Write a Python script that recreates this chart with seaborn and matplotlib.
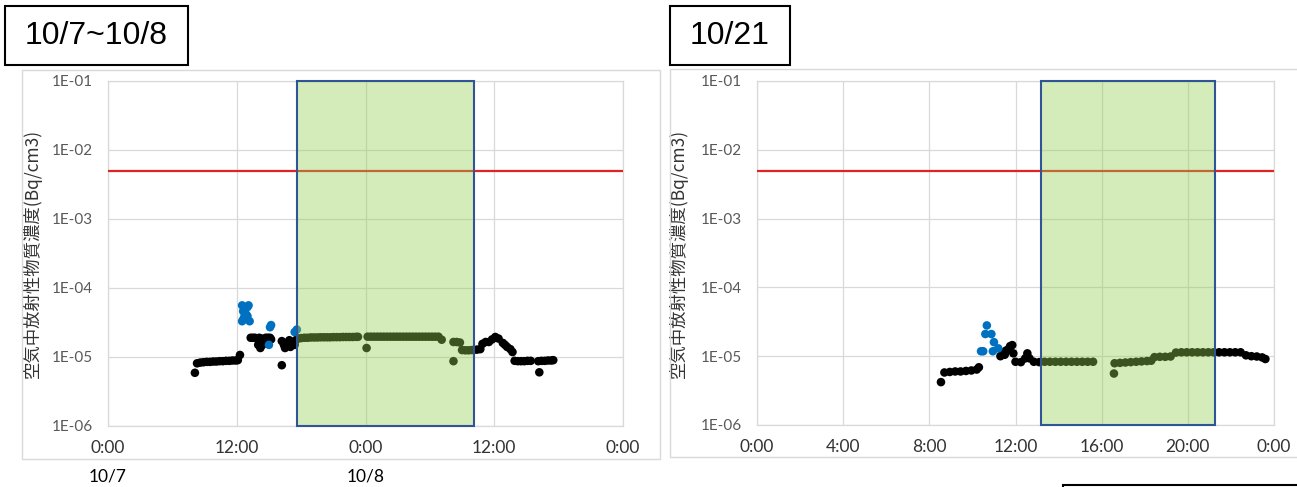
import pandas as pd
import seaborn as sns
import matplotlib.pyplot as plt
from matplotlib.patches import Rectangle
from matplotlib.ticker import NullLocator

# 10/7~10/8 : hours counted from 10/7 0:00
left_hours = [8.1, 8.3, 8.6, 8.9, 9.2, 9.5, 9.8, 10.1, 10.4, 10.7, 11.0, 11.3, 11.6, 11.9, 12.1, 12.3,
              13.3, 13.5, 13.7, 13.9, 14.0, 14.1, 14.2, 14.3, 14.4, 14.5, 14.6, 14.7, 14.9, 15.1, 15.2,
              16.2, 16.2, 16.4, 16.5, 16.7, 16.9, 17.0, 17.2, 17.4, 17.5,
              17.7, 18.0, 18.3, 18.6, 18.9, 19.2, 19.5, 19.8, 20.1, 20.4, 20.7, 21.0, 21.3, 21.6, 21.9,
              22.2, 22.5, 22.8, 23.1, 23.3,
              24.1, 24.2, 24.5, 24.8, 25.1, 25.4, 25.7, 26.0, 26.3, 26.6, 26.9, 27.2, 27.5, 27.8, 28.1,
              28.4, 28.7, 29.0, 29.3, 29.6, 29.9, 30.2, 30.5, 30.8, 31.1,
              32.2, 32.2, 32.5, 32.8, 33.0, 33.3, 33.6, 33.9, 34.1,
              34.4, 34.7, 34.9, 35.2, 35.5, 35.8, 36.1, 36.4, 36.8, 37.0, 37.2, 37.5, 37.7,
              37.9, 38.2, 38.5, 38.8, 39.1, 39.4,
              40.1, 40.2, 40.4, 40.7, 41.0, 41.3, 41.5]
left_values = [5.9e-6, 8.1e-6, 8.3e-6, 8.4e-6, 8.5e-6, 8.5e-6, 8.6e-6, 8.6e-6, 8.7e-6, 8.7e-6, 8.8e-6, 8.8e-6,
               8.9e-6, 8.9e-6, 9.0e-6, 1.07e-5,
               1.9e-5, 1.9e-5, 1.9e-5, 1.85e-5, 1.5e-5, 1.9e-5, 1.35e-5, 1.85e-5, 1.5e-5, 1.8e-5, 1.6e-5,
               1.9e-5, 1.9e-5, 1.9e-5, 1.8e-5,
               7.6e-6, 1.7e-5, 1.5e-5, 1.35e-5, 1.6e-5, 1.75e-5, 1.4e-5, 1.6e-5, 1.5e-5, 1.75e-5,
               1.85e-5, 1.88e-5, 1.9e-5, 1.9e-5, 1.92e-5, 1.92e-5, 1.92e-5, 1.93e-5, 1.93e-5, 1.93e-5,
               1.93e-5, 1.94e-5, 1.94e-5, 1.94e-5, 1.95e-5, 1.95e-5, 1.95e-5, 1.95e-5, 1.96e-5, 1.96e-5,
               1.35e-5, 1.97e-5, 1.97e-5, 1.97e-5, 1.97e-5, 1.97e-5, 1.97e-5, 1.97e-5, 1.97e-5, 1.97e-5,
               1.97e-5, 1.97e-5, 1.97e-5, 1.97e-5, 1.97e-5, 1.97e-5, 1.97e-5, 1.97e-5, 1.97e-5, 1.97e-5,
               1.97e-5, 1.97e-5, 1.97e-5, 1.97e-5, 1.78e-5,
               8.7e-6, 1.65e-5, 1.65e-5, 1.62e-5, 1.26e-5, 1.25e-5, 1.25e-5, 1.26e-5, 1.27e-5,
               1.28e-5, 1.3e-5, 1.55e-5, 1.65e-5, 1.65e-5, 1.8e-5, 1.95e-5, 1.85e-5, 1.6e-5, 1.5e-5,
               1.4e-5, 1.3e-5, 1.18e-5,
               8.8e-6, 8.7e-6, 8.7e-6, 8.7e-6, 8.8e-6, 8.8e-6,
               8.7e-6, 6.0e-6, 8.8e-6, 8.8e-6, 8.9e-6, 8.9e-6, 9.0e-6]
left_blue_hours = [12.5, 12.6, 12.7, 12.5, 12.6, 12.8, 12.9, 13.0, 13.1, 13.0, 13.2, 15.0, 15.1, 15.2, 17.4, 17.6]
left_blue_values = [5.6e-5, 4.6e-5, 3.8e-5, 3.3e-5, 3.5e-5, 4.3e-5, 4.1e-5, 5.3e-5, 5.6e-5, 3.9e-5, 3.3e-5,
                    1.5e-5, 2.7e-5, 2.9e-5, 2.3e-5, 2.5e-5]
left_ticks = [0, 12, 24, 36, 48]
left_ticklabels = ['0:00', '12:00', '0:00', '12:00', '0:00']
left_period = (17.58, 34.08)

# 10/21
right_hours = [8.54, 8.7, 8.95, 9.2, 9.45, 9.7, 9.95, 10.2, 10.3,
               11.3, 11.4, 11.5, 11.55, 11.65, 11.75, 11.85, 11.9,
               12.0, 12.25, 12.45, 12.55, 12.65, 12.85, 13.1,
               13.35, 13.6, 13.85, 14.1, 14.35, 14.6, 14.85, 15.1, 15.35, 15.6,
               16.57, 16.6, 16.85, 17.1, 17.35, 17.6, 17.85, 18.1, 18.3,
               18.45, 18.7, 18.95, 19.2,
               19.45, 19.7, 19.95, 20.2, 20.45, 20.7, 20.95, 21.2, 21.45, 21.7, 21.95, 22.2, 22.45,
               22.7, 22.95, 23.2, 23.45, 23.6]
right_values = [4.2e-6, 5.8e-6, 5.9e-6, 6.0e-6, 6.0e-6, 6.1e-6, 6.2e-6, 6.4e-6, 6.9e-6,
                1.0e-5, 1.1e-5, 1.05e-5, 1.2e-5, 1.25e-5, 1.4e-5, 1.45e-5, 1.1e-5,
                8.3e-6, 8.2e-6, 9.3e-6, 1.1e-5, 9.3e-6, 8.3e-6, 8.2e-6,
                8.3e-6, 8.3e-6, 8.3e-6, 8.3e-6, 8.3e-6, 8.3e-6, 8.3e-6, 8.3e-6, 8.3e-6, 8.3e-6,
                5.6e-6, 7.9e-6, 8.0e-6, 8.1e-6, 8.2e-6, 8.3e-6, 8.4e-6, 8.5e-6, 8.6e-6,
                9.7e-6, 9.8e-6, 9.8e-6, 9.9e-6,
                1.13e-5, 1.14e-5, 1.14e-5, 1.14e-5, 1.14e-5, 1.14e-5, 1.14e-5, 1.14e-5, 1.14e-5,
                1.14e-5, 1.14e-5, 1.14e-5, 1.14e-5,
                1.03e-5, 1.0e-5, 9.9e-6, 9.6e-6, 9.1e-6]
right_blue_hours = [10.4, 10.5, 10.67, 10.6, 10.88, 11.0, 10.95, 11.2]
right_blue_values = [1.18e-5, 1.18e-5, 2.8e-5, 2.1e-5, 2.1e-5, 1.6e-5, 1.18e-5, 1.3e-5]
right_ticks = [0, 4, 8, 12, 16, 20, 24]
right_ticklabels = ['0:00', '4:00', '8:00', '12:00', '16:00', '20:00', '0:00']
right_period = (13.2, 21.25)

limit = 5e-3
decades = [1e-6, 1e-5, 1e-4, 1e-3, 1e-2, 1e-1]
decade_labels = ['1E-06', '1E-05', '1E-04', '1E-03', '1E-02', '1E-01']
ylabel = '空気中放射性物質濃度(Bq/cm3)'

sns.set_theme(style='white')
plt.rcParams['font.family'] = ['Lato', 'Noto Sans CJK JP', 'DejaVu Sans']

W, H = 1297, 487
fig = plt.figure(figsize=(W / 100, H / 100), dpi=100)


def px_rect(x0, y0, x1, y1, **kw):
    # rectangle given in image pixels (top-left origin)
    r = Rectangle((x0 / W, 1 - y1 / H), (x1 - x0) / W, (y1 - y0) / H,
                  transform=fig.transFigure, **kw)
    fig.patches.append(r)


def panel(ax, hours, values, blue_h, blue_v, xmax, ticks, ticklabels, period):
    df = pd.DataFrame({'hour': hours + blue_h, 'value': values + blue_v,
                       'kind': ['normal'] * len(hours) + ['high'] * len(blue_h)})
    sns.scatterplot(data=df, x='hour', y='value', hue='kind',
                    palette={'normal': 'black', 'high': '#0070C0'},
                    s=38, linewidth=0, legend=False, ax=ax, zorder=2)
    ax.set_yscale('log')
    ax.set_ylim(1e-6, 1e-1)
    ax.set_xlim(0, xmax)
    ax.set_yticks(decades)
    ax.set_yticklabels(decade_labels)
    ax.yaxis.set_minor_locator(NullLocator())
    ax.set_xticks(ticks)
    ax.set_xticklabels(ticklabels)
    ax.axhline(limit, color='#E32322', lw=1.6, zorder=3)
    x0, x1 = period
    ax.add_patch(Rectangle((x0, 1e-6), x1 - x0, 1e-1 - 1e-6, facecolor='#92D050',
                           alpha=0.4, edgecolor='none', zorder=4, clip_on=False))
    ax.add_patch(Rectangle((x0, 1e-6), x1 - x0, 1e-1 - 1e-6, facecolor='none',
                           edgecolor='#2F5597', lw=1.5, zorder=5, clip_on=False))
    ax.grid(True, color='#D9D9D9', lw=0.9)
    ax.set_axisbelow(True)
    for sp in ax.spines.values():
        sp.set_color('#D9D9D9')
        sp.set_linewidth(0.9)
    ax.tick_params(axis='y', length=0, pad=11, labelsize=11, labelcolor='#595959')
    ax.tick_params(axis='x', length=0, pad=10, labelsize=12.5, labelcolor='#333333')
    ax.set_xlabel('')
    ax.set_ylabel(ylabel, fontsize=12.5, color='#333333', family=['Noto Sans CJK JP', 'DejaVu Sans'])


# chart area frames
px_rect(22, 70, 660, 459, fill=False, edgecolor='#D9D9D9', lw=1)
px_rect(670, 69, 1310, 457, fill=False, edgecolor='#D9D9D9', lw=1)

ax1 = fig.add_axes([108 / W, 1 - 426 / H, 515 / W, 345 / H])
panel(ax1, left_hours, left_values, left_blue_hours, left_blue_values, 48,
      left_ticks, left_ticklabels, left_period)
ax1.yaxis.set_label_coords(-0.128, 0.5)

ax2 = fig.add_axes([757 / W, 1 - 425 / H, 517 / W, 344 / H])
panel(ax2, right_hours, right_values, right_blue_hours, right_blue_values, 24,
      right_ticks, right_ticklabels, right_period)
ax2.yaxis.set_label_coords(-0.133, 0.5)

# title boxes
px_rect(5, 6, 188, 65, facecolor='white', edgecolor='black', lw=1.5)
fig.text(96.5 / W, 1 - 36 / H, '10/7~10/8', ha='center', va='center', fontsize=23,
         family='Liberation Sans', color='black')
px_rect(670, 6, 790, 65, facecolor='white', edgecolor='black', lw=1.5)
fig.text(730 / W, 1 - 36 / H, '10/21', ha='center', va='center', fontsize=23,
         family='Liberation Sans', color='black')

# date labels under the first chart
fig.text(108 / W, 1 - 476 / H, '10/7', ha='center', va='center', fontsize=12.5, color='black')
fig.text(366 / W, 1 - 477 / H, '10/8', ha='center', va='center', fontsize=12.5, color='black')

# edge of a box cut off at the bottom right
px_rect(1063, 485, 1310, 500, fill=False, edgecolor='black', lw=1.5)

fig.savefig('out.png', dpi=100)
